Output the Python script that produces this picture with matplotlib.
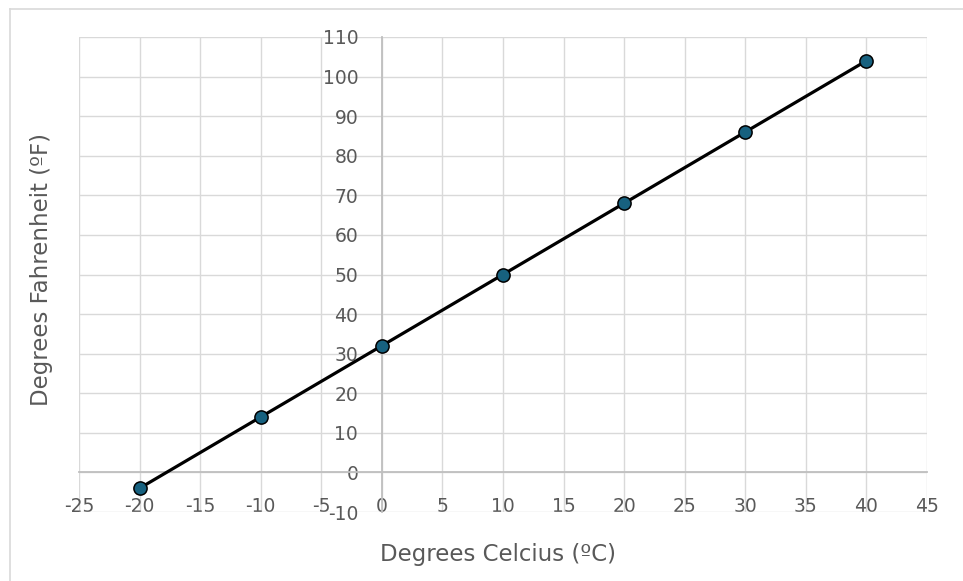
import matplotlib.pyplot as plt
from matplotlib.lines import Line2D

# data
celsius = [-20, -10, 0, 10, 20, 30, 40]
fahrenheit = [-4, 14, 32, 50, 68, 86, 104]
x_ticks = list(range(-25, 50, 5))
y_ticks = list(range(-10, 120, 10))

plt.rcParams['font.family'] = ['DejaVu Sans']
plt.rcParams['axes.unicode_minus'] = False
text_color = '#595959'

fig = plt.figure(figsize=(9.63, 5.81), dpi=100)
ax = fig.add_axes([79 / 963, 1 - 512 / 581, (927 - 79) / 963, (512 - 37) / 581])

ax.plot(celsius, fahrenheit, color='black', linewidth=2.3, zorder=3,
        marker='o', markersize=9.5, markerfacecolor='#17617f',
        markeredgecolor='black', markeredgewidth=1.1)

ax.set_xlim(-25, 45)
ax.set_ylim(-10, 110)
ax.set_xticks(x_ticks)
ax.set_yticks(y_ticks)
ax.grid(True, color='#d9d9d9', linewidth=1.0, zorder=0)
ax.set_axisbelow(True)

# axes cross at zero like Excel
ax.spines['left'].set_position(('data', 0))
ax.spines['bottom'].set_position(('data', 0))
for s in ['left', 'bottom']:
    ax.spines[s].set_color('#bfbfbf')
    ax.spines[s].set_linewidth(1.3)
for s in ['top', 'right']:
    ax.spines[s].set_visible(False)

ax.tick_params(axis='x', length=0, pad=18, labelsize=13.5, colors=text_color)
ax.tick_params(axis='y', length=0, pad=17, labelsize=13.5, colors=text_color)

fig.text(498 / 963, 1 - 555 / 581, 'Degrees Celcius (ºC)', ha='center', va='center',
         fontsize=16.5, color=text_color)
fig.text(42 / 963, 1 - 270 / 581, 'Degrees Fahrenheit (ºF)', ha='center', va='center',
         rotation=90, fontsize=16.5, color=text_color)

# outer chart border
fig.add_artist(Line2D([9.5 / 963, 9.5 / 963], [0, 1 - 8.5 / 581], color='#d9d9d9',
                      linewidth=1.2, transform=fig.transFigure))
fig.add_artist(Line2D([9.5 / 963, 1], [1 - 8.5 / 581, 1 - 8.5 / 581], color='#d9d9d9',
                      linewidth=1.2, transform=fig.transFigure))

fig.savefig('out.png', dpi=100)
